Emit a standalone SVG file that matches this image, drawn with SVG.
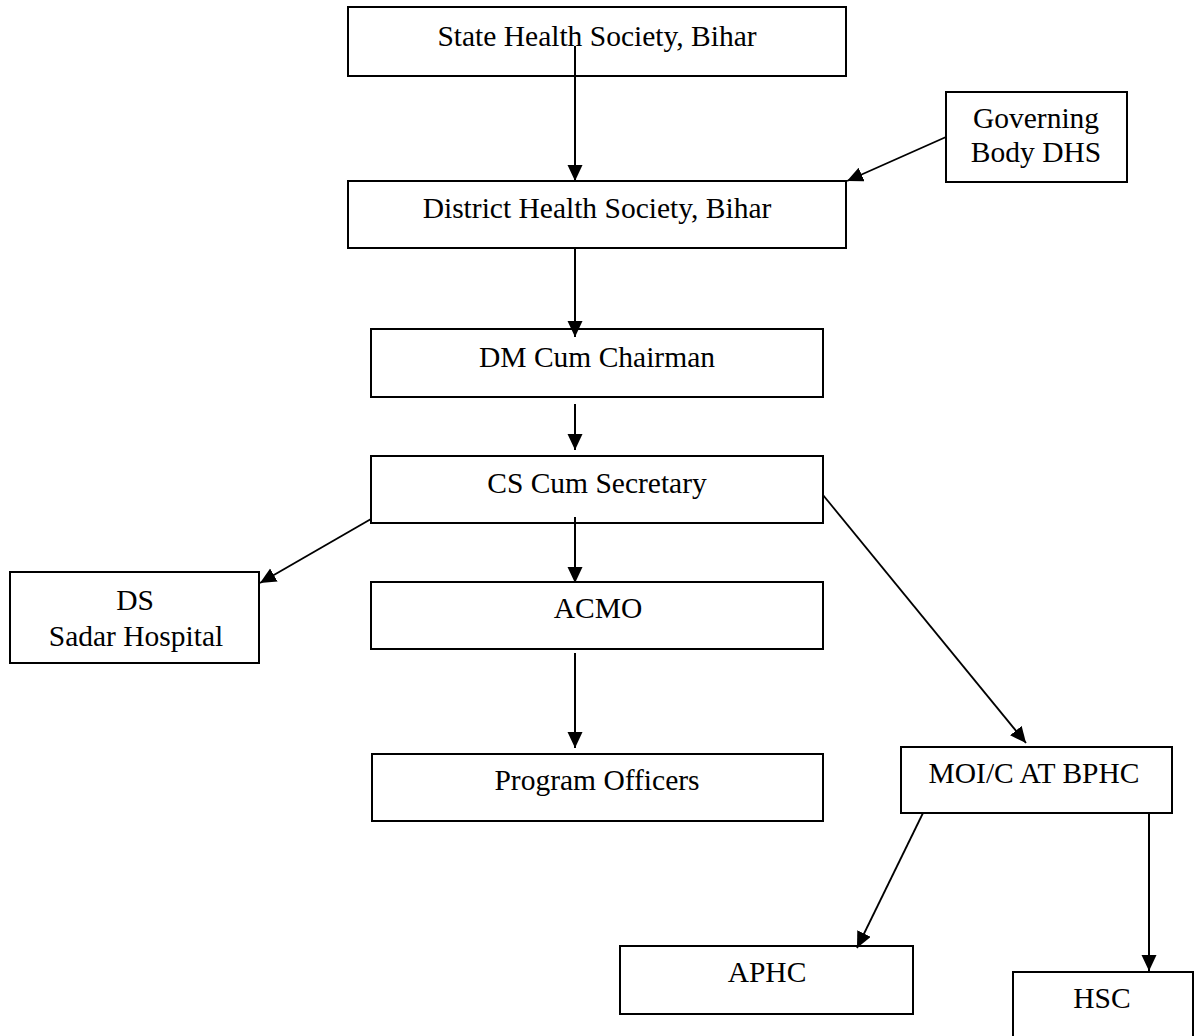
<svg xmlns="http://www.w3.org/2000/svg" width="1194" height="1036" viewBox="0 0 1194 1036">
<style>
.box{fill:#fff;stroke:#000;stroke-width:2}
.t{font-family:"Liberation Serif","Times New Roman",serif;font-size:29.5px;fill:#000;text-anchor:middle}
.c{stroke:#000;stroke-width:2;fill:none}
.d{stroke:#000;stroke-width:1.8;fill:none}
</style>
<defs>
<marker id="ah" markerUnits="userSpaceOnUse" markerWidth="18" markerHeight="16" refX="16" refY="7.5" orient="auto">
<path d="M0,0 L16,7.5 L0,15 z" fill="#000"/>
</marker>
</defs>
<g id="n-state"><rect class="box" x="348" y="7" width="498" height="69"/><text class="t" x="597" y="46">State Health Society, Bihar</text></g>
<g id="n-district"><rect class="box" x="348" y="181" width="498" height="67"/><text class="t" x="597" y="218">District Health Society, Bihar</text></g>
<g id="n-gov"><rect class="box" x="946" y="92" width="181" height="90"/><text class="t" x="1036" y="128">Governing</text><text class="t" x="1036" y="162">Body DHS</text></g>
<g id="n-dm"><rect class="box" x="371" y="329" width="452" height="68"/><text class="t" x="597" y="367">DM Cum Chairman</text></g>
<g id="n-cs"><rect class="box" x="371" y="456" width="452" height="67"/><text class="t" x="597" y="493">CS Cum Secretary</text></g>
<g id="n-ds"><rect class="box" x="10" y="572" width="249" height="91"/><text class="t" x="135" y="610">DS</text><text class="t" x="136" y="646">Sadar Hospital</text></g>
<g id="n-acmo"><rect class="box" x="371" y="582" width="452" height="67"/><text class="t" x="598" y="618">ACMO</text></g>
<g id="n-prog"><rect class="box" x="372" y="754" width="451" height="67"/><text class="t" x="597" y="790">Program Officers</text></g>
<g id="n-moi"><rect class="box" x="901" y="747" width="271" height="66"/><text class="t" x="1034" y="783">MOI/C AT BPHC</text></g>
<g id="n-aphc"><rect class="box" x="620" y="946" width="293" height="68"/><text class="t" x="767" y="982">APHC</text></g>
<g id="n-hsc"><rect class="box" x="1013" y="972" width="180" height="70"/><text class="t" x="1102" y="1008">HSC</text></g>
<g id="connectors">
<line class="c" x1="575" y1="46" x2="575" y2="181" marker-end="url(#ah)"/>
<line class="d" x1="946" y1="137" x2="847" y2="181" marker-end="url(#ah)"/>
<line class="c" x1="575" y1="248" x2="575" y2="337" marker-end="url(#ah)"/>
<line class="c" x1="575" y1="404" x2="575" y2="450" marker-end="url(#ah)"/>
<line class="d" x1="371" y1="519" x2="260" y2="583" marker-end="url(#ah)"/>
<line class="c" x1="575" y1="517" x2="575" y2="583" marker-end="url(#ah)"/>
<line class="c" x1="575" y1="653" x2="575" y2="748" marker-end="url(#ah)"/>
<line class="d" x1="823" y1="495" x2="1026" y2="743" marker-end="url(#ah)"/>
<line class="d" x1="923" y1="813" x2="857" y2="948" marker-end="url(#ah)"/>
<line class="c" x1="1149" y1="813" x2="1149" y2="971" marker-end="url(#ah)"/>
</g>
</svg>
